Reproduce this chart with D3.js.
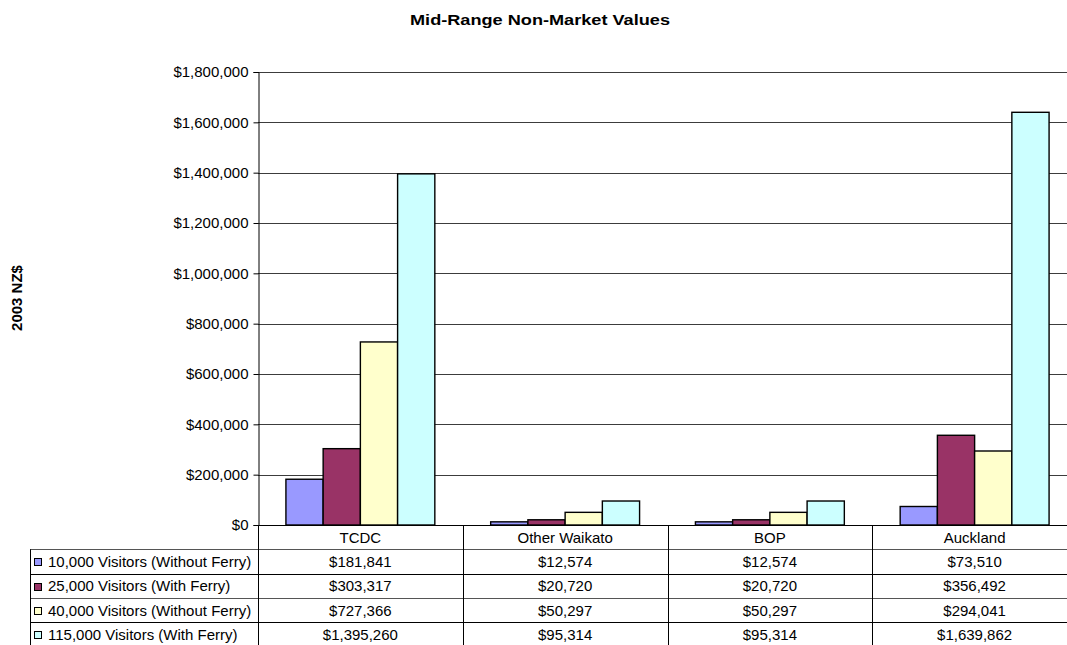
<!DOCTYPE html>
<html>
<head>
<meta charset="utf-8">
<script src="https://cdn.jsdelivr.net/npm/d3@7"></script>
<style>
  html, body { margin: 0; padding: 0; background: #fff; overflow: hidden; }
  svg { display: block; font-family: "Liberation Sans", Arial, sans-serif; }
</style>
</head>
<body>
<svg id="chart" width="1067" height="645"></svg>
<script>
// Regions and visitor scenarios
const categories = ["TCDC", "Other Waikato", "BOP", "Auckland"];
const seriesNames = [
  "10,000 Visitors (Without Ferry)",
  "25,000 Visitors (With Ferry)",
  "40,000 Visitors (Without Ferry)",
  "115,000 Visitors (With Ferry)"
];
const visitors10k = [181841, 12574, 12574, 73510];
const visitors25k = [303317, 20720, 20720, 356492];
const visitors40k = [727366, 50297, 50297, 294041];
const visitors115k = [1395260, 95314, 95314, 1639862];
const yTicks = [0, 200000, 400000, 600000, 800000, 1000000, 1200000, 1400000, 1600000, 1800000];
const seriesColors = ["#9999FF", "#993366", "#FFFFCC", "#CCFFFF"];

const seriesValues = [visitors10k, visitors25k, visitors40k, visitors115k];

const svg = d3.select("#chart");
const fmt = d3.format("$,.0f");

// Plot area geometry
const plotLeft = 258, plotRight = 1077, plotTop = 72, plotBottom = 525;
const tableLeft = 30, rowH = 24.3;
const fontSize = 15;

const x = d3.scaleBand().domain(categories).range([plotLeft, plotRight]);
// Excel style: four bars plus a gap of 1.5 bar widths split over both sides
const barW = x.bandwidth() / 5.5;
const y = d3.scaleLinear().domain([0, 1800000]).range([plotBottom, plotTop]);

// Title
svg.append("text")
  .attr("x", 540).attr("y", 25)
  .attr("text-anchor", "middle")
  .attr("font-size", 15.5).attr("font-weight", "bold")
  .attr("textLength", 260).attr("lengthAdjust", "spacingAndGlyphs")
  .text("Mid-Range Non-Market Values");

// Y axis title
svg.append("text")
  .attr("transform", "translate(21.5,298) rotate(-90)")
  .attr("text-anchor", "middle")
  .attr("font-size", 15).attr("font-weight", "bold")
  .text("2003 NZ$");

// Gridlines
svg.append("g").selectAll("line").data(yTicks.slice(1)).join("line")
  .attr("x1", plotLeft).attr("x2", plotRight)
  .attr("y1", d => Math.round(y(d)) + 0.5).attr("y2", d => Math.round(y(d)) + 0.5)
  .attr("stroke", "#3c3c3c").attr("stroke-width", 1);

// Y axis
const yAxis = d3.axisLeft(y).tickValues(yTicks).tickFormat(fmt).tickSize(5).tickPadding(5);
const gy = svg.append("g").attr("transform", `translate(${plotLeft + 0.5},0)`).call(yAxis);
gy.select(".domain").attr("stroke", "#000");
gy.selectAll(".tick line").attr("stroke", "#000");
gy.selectAll(".tick text").attr("font-size", fontSize).attr("fill", "#000")
  .attr("font-family", "'Liberation Sans', Arial, sans-serif");

// Bars
const groups = svg.append("g").selectAll("g").data(categories).join("g")
  .attr("transform", d => `translate(${x(d)},0)`);
groups.selectAll("rect")
  .data((c, i) => seriesValues.map((s, k) => ({ k, v: s[i] })))
  .join("rect")
  .attr("x", d => barW * 0.75 + d.k * barW)
  .attr("width", barW)
  .attr("y", d => y(d.v))
  .attr("height", d => plotBottom - y(d.v))
  .attr("fill", d => seriesColors[d.k])
  .attr("stroke", "#000").attr("stroke-width", 1.4);

// Baseline
svg.append("line").attr("x1", plotLeft).attr("x2", plotRight)
  .attr("y1", plotBottom + 0.5).attr("y2", plotBottom + 0.5).attr("stroke", "#000");

// Data table
const table = svg.append("g");
const rowsTop = plotBottom + rowH;
// horizontal rules
d3.range(seriesValues.length + 1).forEach(r => {
  const yy = Math.round(rowsTop + r * rowH) + 0.5;
  table.append("line").attr("x1", tableLeft).attr("x2", plotRight)
    .attr("y1", yy).attr("y2", yy)
    .attr("stroke", r % 2 === 0 ? "#555" : "#000");
});
// vertical rules
table.append("line").attr("x1", tableLeft + 0.5).attr("x2", tableLeft + 0.5)
  .attr("y1", rowsTop).attr("y2", 645).attr("stroke", "#000");
categories.forEach(c => {
  const xx = Math.round(x(c)) + 0.5;
  table.append("line").attr("x1", xx).attr("x2", xx)
    .attr("y1", plotBottom).attr("y2", 645).attr("stroke", "#000");
});

// Category headers
table.selectAll("text.cat").data(categories).join("text")
  .attr("class", "cat")
  .attr("x", d => x(d) + x.bandwidth() / 2)
  .attr("y", plotBottom + rowH / 2 + 5.5)
  .attr("text-anchor", "middle").attr("font-size", fontSize)
  .text(d => d);

// Series rows: legend key, name, values
seriesNames.forEach((name, k) => {
  const cy = rowsTop + k * rowH + rowH / 2;
  table.append("rect")
    .attr("x", 34.5).attr("y", Math.round(cy - 3) + 0.5)
    .attr("width", 7).attr("height", 7)
    .attr("fill", seriesColors[k]).attr("stroke", "#000");
  table.append("text")
    .attr("x", 48).attr("y", cy + 5.5)
    .attr("font-size", fontSize)
    .text(name);
  categories.forEach((c, i) => {
    table.append("text")
      .attr("x", x(c) + x.bandwidth() / 2).attr("y", cy + 5.5)
      .attr("text-anchor", "middle").attr("font-size", fontSize)
      .text(fmt(seriesValues[k][i]));
  });
});
</script>
</body>
</html>
